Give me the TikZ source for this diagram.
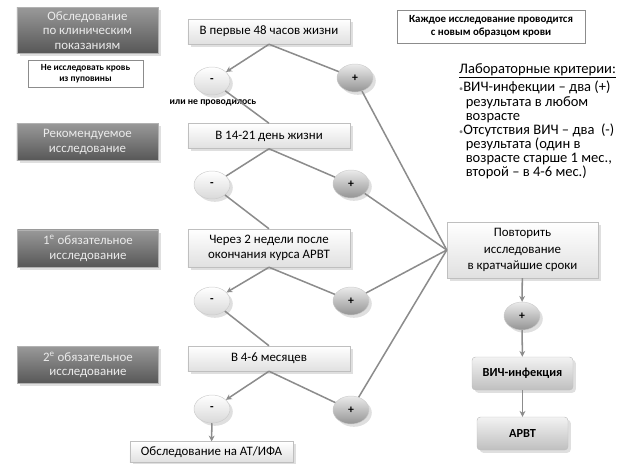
\documentclass[tikz,border=0pt]{standalone}
\usepackage{fontspec}
\setmainfont{Carlito}
\usetikzlibrary{shapes.geometric,arrows.meta,shadows}

\begin{document}
\begin{tikzpicture}[x=0.03cm,y=-0.03cm,
  stage/.style={rectangle, minimum width=4.23cm, minimum height=1.12cm, align=center, top color=black!40, bottom color=black!66, draw=black!30, text=black!8, font=\fontsize{11}{12.5}\selectfont, drop shadow={opacity=0.25}},
  stepbox/.style={rectangle, minimum width=4.86cm, minimum height=0.75cm, align=center, top color=white, bottom color=black!12, draw=black!25, font=\fontsize{11}{13}\selectfont, drop shadow={opacity=0.25}},
  note/.style={rectangle, draw=black!45, fill=white, align=center, font=\bfseries\fontsize{8}{9.5}\selectfont},
  negnode/.style={ellipse, minimum width=1.08cm, minimum height=0.84cm, inner sep=0pt, top color=white, bottom color=black!15, draw=black!20, font=\bfseries\normalsize, drop shadow={opacity=0.25}},
  posnode/.style={negnode, top color=black!8, bottom color=black!42},
  result/.style={rectangle, rounded corners=3pt, minimum height=0.99cm, align=center, top color=black!5, bottom color=black!25, draw=black!25, font=\bfseries\fontsize{10.5}{12}\selectfont, drop shadow={opacity=0.25}},
  link/.style={draw=black!45, line width=1.3pt},
  tip/.style={-{Stealth[length=5pt,width=5pt]}}
]
\useasboundingbox (0,0) rectangle (621,463);
% left column
\node[stage, minimum height=1.35cm] (st0) at (87.5,30.5){Обследование\\по клиническим\\показаниям};
\node[note, minimum width=3.45cm, minimum height=0.81cm] (cord) at (85.5,73.5){Не исследовать кровь\\из пуповины};
\node[stage] (st1) at (87.5,142){Рекомендуемое\\исследование};
\node[stage] (st2) at (88,248.5){1\textsuperscript{е} обязательное\\исследование};
\node[stage] (st3) at (88,365){2\textsuperscript{е} обязательное\\исследование};
% middle column
\node[stepbox] (t0) at (269,31.5){В первые 48 часов жизни};
\node[negnode] (n0) at (212,81){-};
\node[posnode] (p0) at (355,78){+};
\node[font=\bfseries\fontsize{8.3}{9}\selectfont] (skip) at (213,103){или не проводилось};
\node[stepbox] (t1) at (269,136){В 14-21 день жизни};
\node[negnode] (n1) at (212,185){-};
\node[posnode] (p1) at (351,184){+};
\node[stepbox, minimum height=1.14cm] (t2) at (269,248){Через 2 недели после\\окончания курса АРВТ};
\node[negnode] (n2) at (212,301){-};
\node[posnode] (p2) at (351,301){+};
\node[stepbox] (t3) at (269,358.5){В 4-6 месяцев};
\node[negnode] (n3) at (212,409){-};
\node[posnode] (p3) at (351,410){+};
\node[stepbox, minimum width=4.89cm, minimum height=0.62cm] (ifa) at (211.5,452){Обследование на АТ/ИФА};
% right column
\node[note, minimum width=5.64cm, minimum height=0.99cm, font=\bfseries\fontsize{9.3}{11}\selectfont] (fresh) at (491,26.5){Каждое исследование проводится\\с новым образцом крови};
\node[anchor=north west, align=left, inner sep=0pt, font=\fontsize{12.4}{12}\selectfont] (crit) at (459,63){\underline{Лабораторные критерии:}\\[2pt]
{\color{black!50}\scriptsize•}ВИЧ-инфекции – два (+)\\
\hspace*{0.45em}результата в любом\\
\hspace*{0.45em}возрасте\\
{\color{black!50}\scriptsize•}Отсутствия ВИЧ – два\ \ (-)\\
\hspace*{0.45em}результата (один в\\
\hspace*{0.45em}возрасте старше 1 мес.,\\
\hspace*{0.45em}второй – в 4-6 мес.)};
\node[stepbox, minimum width=4.53cm, minimum height=1.68cm, font=\fontsize{11}{14}\selectfont] (rep) at (522.5,250){Повторить\\исследование\\в кратчайшие сроки};
\node[posnode] (p4) at (522,316){+};
\node[result, minimum width=3.03cm] (hiv) at (522.5,373.5){ВИЧ-инфекция};
\node[result, minimum width=2.73cm] (arvt) at (522.5,433.5){АРВТ};
% connectors
\draw[link,tip](t0.south) -- (n0);
\draw[link](t0.south) -- (p0);
\draw[link](n0) -- (t1.north);
\draw[link](t1.south) -- (n1);
\draw[link](t1.south) -- (p1);
\draw[link](n1) -- (t2.north);
\draw[link,tip](t2.south) -- (n2);
\draw[link](t2.south) -- (p2);
\draw[link](n2) -- (t3.north);
\draw[link,tip](t3.south) -- (n3);
\draw[link](t3.south) -- (p3);
\draw[link,tip](n3) -- (ifa);
\draw[link](p0) -- (rep.west);
\draw[link](p1) -- (rep.west);
\draw[link](p2) -- (rep.west);
\draw[link](p3) -- (rep.west);
\draw[link,tip](rep) -- (p4);
\draw[link,tip](p4) -- (hiv);
\draw[link,tip](hiv) -- (arvt);
\end{tikzpicture}
\end{document}
